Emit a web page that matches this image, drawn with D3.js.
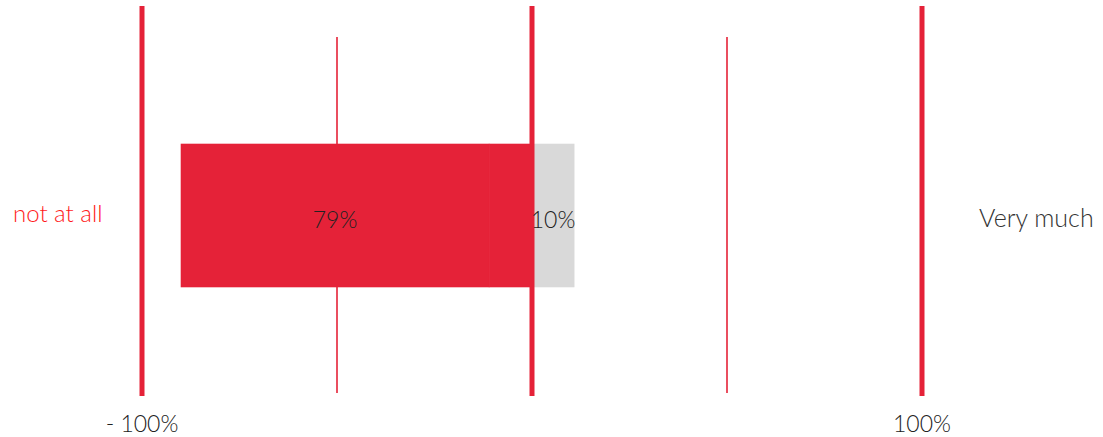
<!DOCTYPE html>
<html>
	<head>
		<meta charset="utf-8">
		<title>Diverging bar</title>
		<style>
			body { margin: 0; background: #fff; overflow: hidden; }
			svg { position: absolute; top: 0; left: 0; }
			text { font-family: Lato, "Open Sans", sans-serif; font-weight: 300; }
		</style>
		<script src="https://d3js.org/d3.v7.min.js" charset="utf-8"></script>
	</head>
	<body>
		<script>

		// data (ordered from the zero line outward)
		var segNames = ["rather not", "not at all", "rather yes", "Very much"];
		var segValues = [-11, -79, 10.8, 0];
		var segLabels = ["", "79%", "10%", ""];
		var segColors = ["#e52238", "#e52238", "#d9d9d9", "#d9d9d9"];
		var majorTicks = [-100, 0, 100];
		var gridTicks = [-100, -50, 0, 50, 100];
		var tickLabels = ["- 100%", "100%"];
		var tickLabelValues = [-100, 100];

		var w = 1103,
			h = 437;

		var svg = d3.select("body").append("svg")
			.attr("width", w)
			.attr("height", h);

		var x = d3.scaleLinear().domain([-100, 100]).range([142, 922]);
		var y = d3.scaleBand().domain(["q"]).range([144, 287]);

		// thin grid lines
		svg.selectAll("line.grid").data(gridTicks).enter().append("line")
			.attr("class", "grid")
			.attr("x1", function(d){ return x(d); })
			.attr("x2", function(d){ return x(d); })
			.attr("y1", 37)
			.attr("y2", 393)
			.attr("stroke", "#e52238")
			.attr("stroke-width", 1.6);

		// stacked segments
		var negPos = 0, posPos = 0;
		var segs = segValues.map(function(v, i){
			var s;
			if (v < 0) { s = {x0: negPos + v, x1: negPos}; negPos += v; }
			else { s = {x0: posPos, x1: posPos + v}; posPos += v; }
			s.label = segLabels[i];
			s.color = segColors[i];
			s.name = segNames[i];
			return s;
		}).filter(function(s){ return s.x1 - s.x0 > 0; });

		svg.selectAll("rect.seg").data(segs).enter().append("rect")
			.attr("class", "seg")
			.attr("x", function(d){ return x(d.x0); })
			.attr("width", function(d){ return x(d.x1) - x(d.x0); })
			.attr("y", y("q"))
			.attr("height", y.bandwidth())
			.attr("fill", function(d){ return d.color; })
			.attr("stroke", function(d){ return d.color; })
			.attr("stroke-width", 0.6);

		// thick lines at -100, 0, 100
		svg.selectAll("line.major").data(majorTicks).enter().append("line")
			.attr("class", "major")
			.attr("x1", function(d){ return x(d); })
			.attr("x2", function(d){ return x(d); })
			.attr("y1", 6)
			.attr("y2", 396)
			.attr("stroke", "#e52238")
			.attr("stroke-width", 5);

		svg.selectAll("text.seglabel").data(segs.filter(function(d){ return d.label; })).enter().append("text")
			.attr("class", "seglabel")
			.attr("x", function(d){ return x((d.x0 + d.x1) / 2); })
			.attr("y", y("q") + y.bandwidth() / 2 + 12)
			.attr("text-anchor", "middle")
			.attr("font-size", "23px")
			.attr("fill", "#222")
			.text(function(d){ return d.label; });

		// axis labels
		svg.selectAll("text.tick").data(tickLabelValues).enter().append("text")
			.attr("class", "tick")
			.attr("x", function(d){ return x(d); })
			.attr("y", 432)
			.attr("text-anchor", "middle")
			.attr("font-size", "23px")
			.attr("fill", "#222")
			.text(function(d, i){ return tickLabels[i]; });

		// end labels
		svg.append("text")
			.attr("x", 13).attr("y", 222)
			.attr("font-size", "24px")
			.attr("fill", "#ff1a1a")
			.text(segNames[1]);

		svg.append("text")
			.attr("x", 979).attr("y", 227)
			.attr("font-size", "25px")
			.attr("fill", "#333")
			.text(segNames[3]);

		</script>
	</body>
</html>
